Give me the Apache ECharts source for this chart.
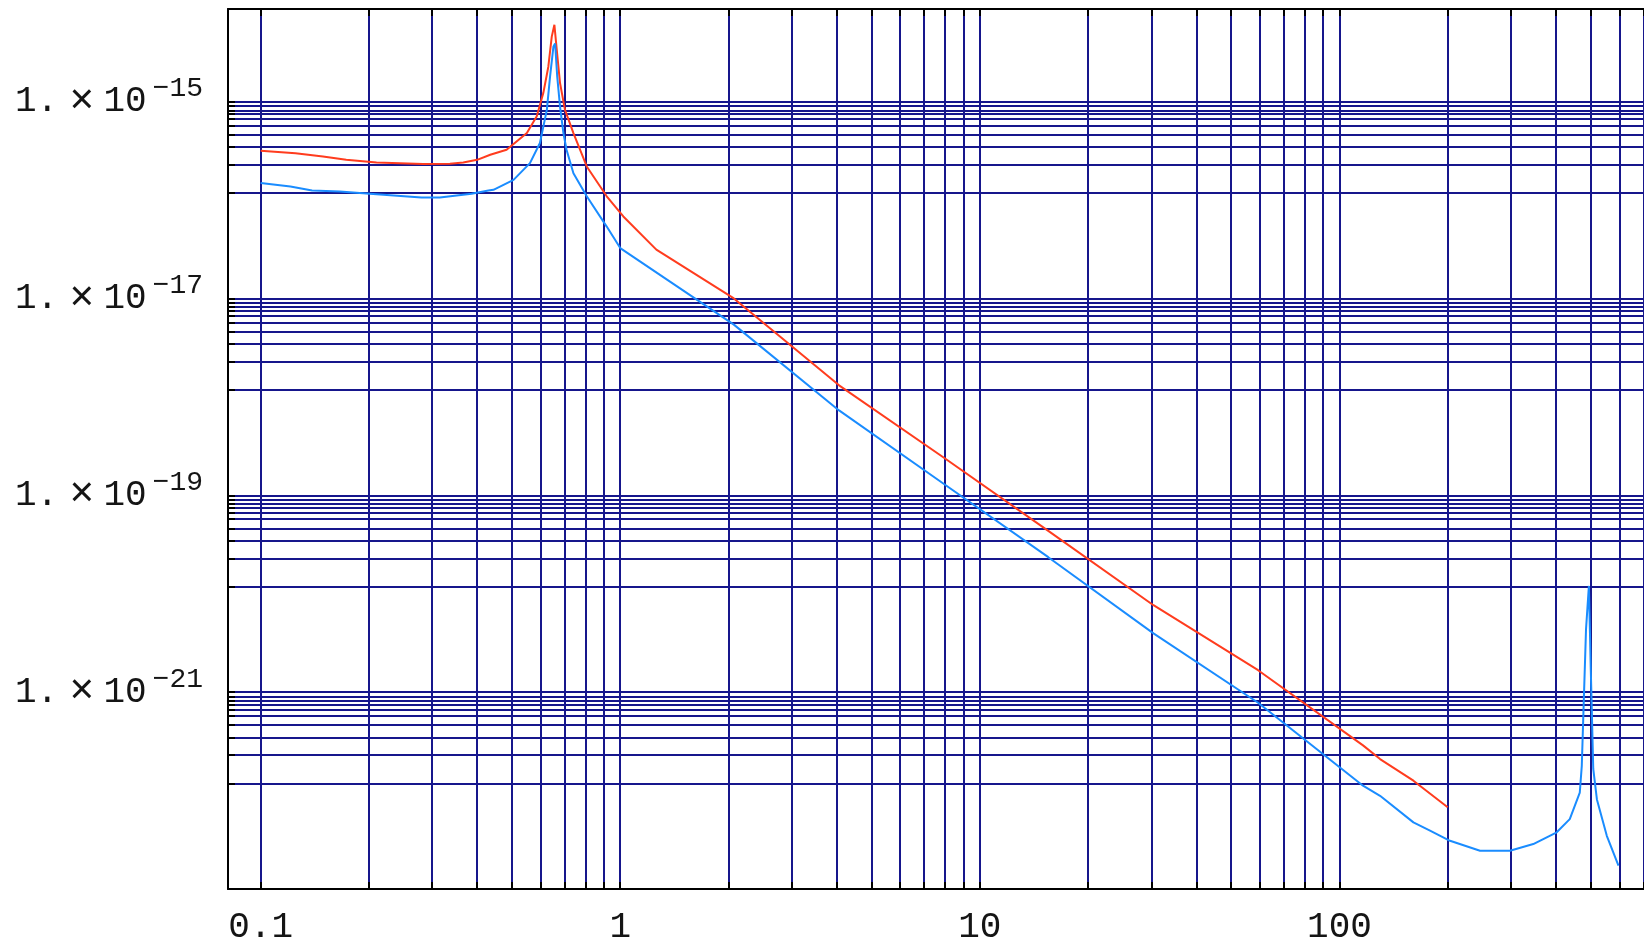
<!DOCTYPE html>
<html><head><meta charset="utf-8">
<script src="https://cdn.jsdelivr.net/npm/echarts@6/dist/echarts.min.js"></script>
<style>html,body{margin:0;padding:0;background:#fff}#c{width:1644px;height:945px}</style>
</head><body><div id="c"></div>
<script>
// tick labels
const xTickLabels = [0.1, 1, 10, 100];
const yTickLabels = [1e-15, 1e-17, 1e-19, 1e-21];
// grid line values
const xGridValues = [0.1,0.2,0.3,0.4,0.5,0.6,0.7,0.8,0.9,1,2,3,4,5,6,7,8,9,10,20,30,40,50,60,70,80,90,100,200,300,400,500,600,700];
const yGridDecades = [1e-15, 1e-17, 1e-19, 1e-21];
const yGridFactors = [1, 0.9, 0.816, 0.747, 0.664, 0.571, 0.462, 0.344, 0.229, 0.118];
// red series
const redFreq = [0.1,0.125,0.149,0.173,0.21,0.283,0.336,0.366,0.40,0.435,0.483,0.55,0.586,0.611,0.631,0.645,0.656,0.666,0.68,0.702,0.741,0.807,0.917,1.02,1.26,2.07,4.06,7.93,15.5,30.4,59.4,116.3,129.7,160.6,200];
const redPsd = [3.16e-16,2.99e-16,2.77e-16,2.56e-16,2.40e-16,2.32e-16,2.34e-16,2.40e-16,2.56e-16,2.88e-16,3.24e-16,4.79e-16,7.08e-16,1.22e-15,2.26e-15,4.57e-15,6.03e-15,3.35e-15,1.55e-15,8.24e-16,4.79e-16,2.19e-16,1.09e-16,6.81e-17,3.13e-17,1.0e-17,1.31e-18,2.42e-19,4.35e-20,7.64e-21,1.67e-21,2.88e-22,2.09e-22,1.26e-22,6.76e-23];
// blue series
const blueFreq = [0.1,0.121,0.139,0.166,0.201,0.28,0.315,0.386,0.43,0.444,0.505,0.561,0.598,0.625,0.638,0.652,0.659,0.668,0.68,0.695,0.709,0.741,0.807,0.917,1.0,2.07,4.06,7.93,15.5,30.4,59.4,116.3,129.7,160.6,178.6,203,246,298,346,402,437,466,472,477,485,494,500,508,520,554,597];
const bluePsd = [1.49e-16,1.37e-16,1.25e-16,1.22e-16,1.16e-16,1.06e-16,1.06e-16,1.16e-16,1.25e-16,1.27e-16,1.60e-16,2.37e-16,3.80e-16,8.24e-16,1.79e-15,3.63e-15,3.89e-15,1.79e-15,8.91e-16,4.79e-16,3.24e-16,1.87e-16,1.09e-16,5.37e-17,3.25e-17,5.42e-18,7.28e-19,1.31e-19,2.35e-20,3.95e-21,7.8e-22,1.12e-22,8.85e-23,4.75e-23,3.91e-23,3.09e-23,2.45e-23,2.45e-23,2.86e-23,3.77e-23,5.13e-23,9.55e-23,1.78e-22,6.21e-22,4.37e-21,1.20e-20,1.70e-21,1.66e-22,8.13e-23,3.47e-23,1.73e-23];

const yGridValues = [];
yGridDecades.forEach(d => yGridFactors.forEach(f => yGridValues.push(d * f)));

const FONT = 'Liberation Mono';
const GRIDCOLOR = '#16168c';
const TEXTCOLOR = '#151515';
const pairs = (xs, ys) => xs.map((x, i) => [x, ys[i]]);

const chart = echarts.init(document.getElementById('c'), null, {renderer: 'canvas'});
const xCommon = {
  type: 'log', logBase: 10, min: 0.08114, max: 703,
  axisLine: {show: true, onZero: false, lineStyle: {color: '#000', width: 2}},
  axisTick: {show: true, inside: true, length: 7, customValues: xGridValues, lineStyle: {color: '#000', width: 2}},
  minorTick: {show: false}, minorSplitLine: {show: false}
};
chart.setOption({
  animation: false,
  backgroundColor: '#fff',
  grid: {left: 228, top: 9, right: 0, bottom: 55, containLabel: false},
  xAxis: [
    Object.assign({}, xCommon, {
      position: 'bottom',
      axisLabel: {show: true, customValues: xTickLabels, fontFamily: FONT, fontSize: 36, color: TEXTCOLOR, margin: 20,
        formatter: v => { const e = Math.round(Math.log10(v)); return e < 0 ? v.toFixed(-e) : String(Math.round(v)); }},
      splitLine: {show: true, lineStyle: {color: GRIDCOLOR, width: 2}}
    }),
    Object.assign({}, xCommon, {
      position: 'top',
      axisLabel: {show: false},
      splitLine: {show: false}
    })
  ],
  yAxis: [{
    type: 'log', logBase: 10, min: 1e-23, max: 8.72e-15,
    axisLine: {show: true, onZero: false, lineStyle: {color: '#000', width: 2}},
    axisTick: {show: true, inside: true, length: 7, customValues: yGridValues, lineStyle: {color: '#000', width: 2}},
    axisLabel: {
      show: true, customValues: yTickLabels, margin: 25,
      formatter: v => '{m|1.}{x|×}{m|10}{s|\u2212' + Math.abs(Math.round(Math.log10(v))) + '}',
      rich: {
        m: {fontFamily: FONT, fontSize: 36, color: TEXTCOLOR},
        x: {fontFamily: FONT, fontSize: 42, color: TEXTCOLOR, padding: [0, 9, 0, 11]},
        s: {fontFamily: FONT, fontSize: 28, color: TEXTCOLOR, padding: [0, 0, 26, 6]}
      }
    },
    splitLine: {show: true, lineStyle: {color: GRIDCOLOR, width: 2}},
    minorTick: {show: false}, minorSplitLine: {show: false}
  }],
  series: [
    {type: 'line', name: 'red', data: pairs(redFreq, redPsd), showSymbol: false, symbol: 'none',
     lineStyle: {color: '#ff3c1e', width: 2}, itemStyle: {color: '#ff3c1e'}, z: 3},
    {type: 'line', name: 'blue', data: pairs(blueFreq, bluePsd), showSymbol: false, symbol: 'none',
     lineStyle: {color: '#1a8cff', width: 2}, itemStyle: {color: '#1a8cff'}, z: 4}
  ]
});
</script></body></html>
